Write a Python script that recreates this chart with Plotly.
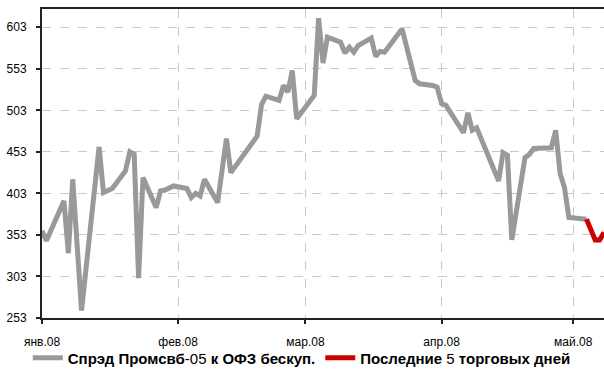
import plotly.graph_objects as go

dates = ["2008-01-01","2008-01-02","2008-01-06","2008-01-07","2008-01-08","2008-01-10",
         "2008-01-14","2008-01-15","2008-01-17","2008-01-20","2008-01-21","2008-01-22",
         "2008-01-23","2008-01-24","2008-01-27","2008-01-28","2008-01-29","2008-01-31",
         "2008-02-03","2008-02-04","2008-02-05","2008-02-06","2008-02-07","2008-02-10",
         "2008-02-12","2008-02-13","2008-02-19","2008-02-20","2008-02-21","2008-02-24",
         "2008-02-25","2008-02-26","2008-02-27","2008-02-28","2008-03-03","2008-03-04",
         "2008-03-05","2008-03-06","2008-03-09","2008-03-10","2008-03-11","2008-03-12",
         "2008-03-13","2008-03-16","2008-03-17","2008-03-18","2008-03-19","2008-03-23",
         "2008-03-26","2008-03-27","2008-03-30","2008-03-31","2008-04-01","2008-04-02",
         "2008-04-06","2008-04-07","2008-04-08","2008-04-09","2008-04-14","2008-04-15",
         "2008-04-16","2008-04-17","2008-04-20","2008-04-21","2008-04-22","2008-04-26",
         "2008-04-27","2008-04-28","2008-04-29","2008-04-30","2008-05-04"]
spread = [358,346,394,331,420,262,
          459,404,409,430,453,450,
          301,422,386,406,407,412,
          409,398,403,400,420,392,
          469,428,472,510,520,515,
          533,525,551,493,521,614,
          560,591,585,572,579,573,
          581,590,568,574,573,601,
          539,535,533,531,511,509,
          476,500,479,482,418,452,
          449,347,446,450,457,458,
          479,427,410,374,372]

last_dates = ["2008-05-04","2008-05-05","2008-05-06","2008-05-07","2008-05-08"]
last_values = [372,360,347,347,356]

y_ticks = [253,303,353,403,453,503,553,603]
x_ticks = ["2008-01-01","2008-02-01","2008-03-01","2008-04-01","2008-05-01"]
x_labels = ["янв.08","фев.08","мар.08","апр.08","май.08"]

name1 = "<b>Спрэд Промсвб</b>-05<b> к ОФЗ бескуп.</b>"
name2 = "<b>Последние </b>5<b> торговых дней</b>"

fig = go.Figure()
fig.add_trace(go.Scatter(x=dates, y=spread, mode="lines", name=name1,
                         line=dict(color="#999999", width=5)))
fig.add_trace(go.Scatter(x=last_dates, y=last_values, mode="lines", name=name2,
                         line=dict(color="#cc0000", width=5)))

fig.update_layout(
    width=604, height=369,
    margin=dict(l=42, r=0, t=9, b=51, autoexpand=False),
    paper_bgcolor="white", plot_bgcolor="white",
    font=dict(family="Liberation Sans, Arial, sans-serif", color="#000000", size=12),
    showlegend=True,
    legend=dict(orientation="h", xref="container", x=0.046, xanchor="left",
                yref="container", y=0.03, yanchor="middle",
                font=dict(size=15, family="Liberation Sans, Arial, sans-serif"),
                itemwidth=30, tracegroupgap=0, bgcolor="rgba(0,0,0,0)"),
)
fig.update_xaxes(
    type="date", range=["2008-01-01", "2008-05-08"],
    tickmode="array", tickvals=x_ticks, ticktext=x_labels,
    showgrid=True, gridcolor="#c8c8c8", griddash="dash", gridwidth=1,
    showline=True, linecolor="#222222", linewidth=2, mirror=True,
    ticks="outside", ticklen=4, tickcolor="#222222", tickwidth=1.5,
    ticklabelstandoff=8,
    tickfont=dict(size=12), zeroline=False,
)
fig.update_yaxes(
    range=[253, 625], tickmode="array", tickvals=y_ticks,
    showgrid=True, gridcolor="#c8c8c8", griddash="dash", gridwidth=1,
    showline=True, linecolor="#222222", linewidth=2,
    ticks="outside", ticklen=4, tickcolor="#222222", tickwidth=1.5,
    ticklabelstandoff=7,
    tickfont=dict(size=12), zeroline=False,
)

fig.write_html("out.html", config={"displayModeBar": False},
               post_script="document.body.style.margin='0px';")
